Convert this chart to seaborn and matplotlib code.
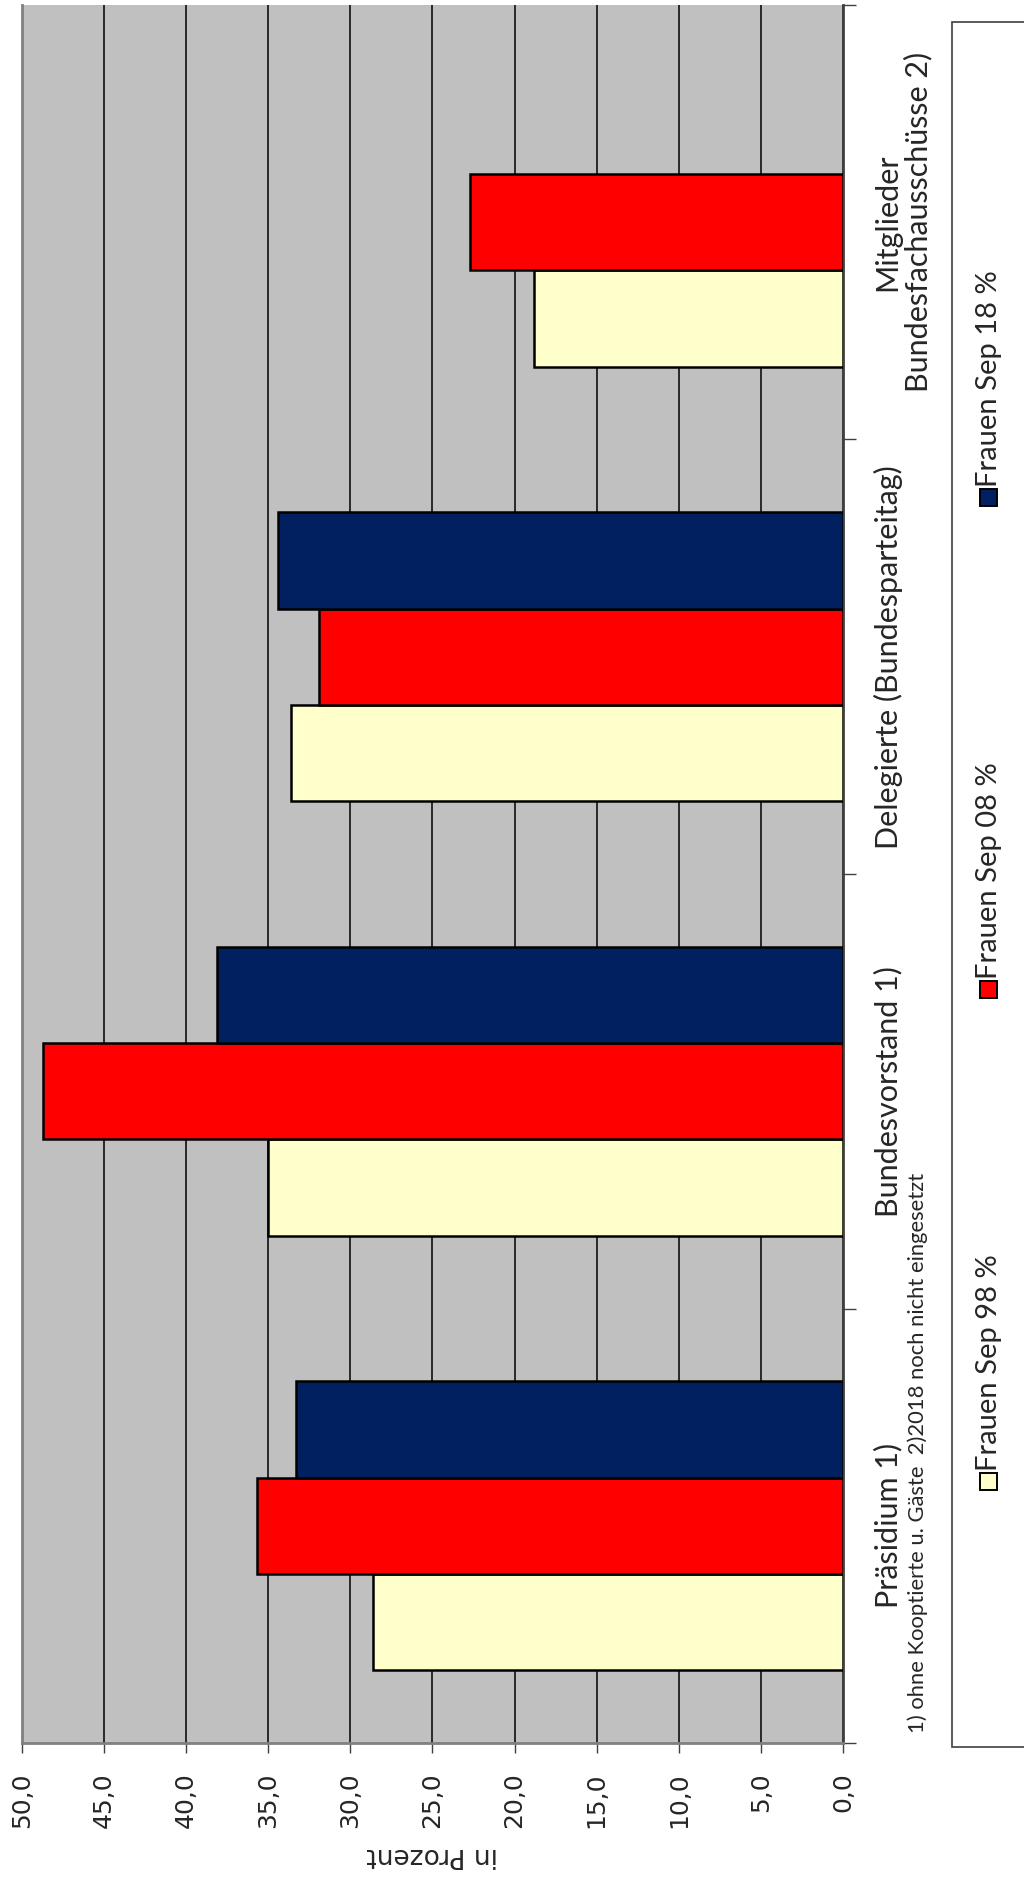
import numpy as np
import pandas as pd
import matplotlib
matplotlib.use("Agg")
import matplotlib.pyplot as plt
import seaborn as sns
from matplotlib.patches import Rectangle
from matplotlib.ticker import MultipleLocator, FixedLocator

sns.set_style("white")
plt.rcParams['font.family'] = ['DejaVu Sans']

# Daten (Frauenanteil in Prozent)
kategorien = ["Präsidium 1)", "Bundesvorstand 1)", "Delegierte (Bundesparteitag)",
              "Mitglieder\nBundesfachausschüsse 2)"]
serien = ["Frauen Sep 98 %", "Frauen Sep 08 %", "Frauen Sep 18 %"]
sep98 = [28.6, 35.0, 33.6, 18.8]
sep08 = [35.7, 48.7, 31.9, 22.7]
sep18 = [33.3, 38.1, 34.4, np.nan]   # 2018 noch nicht eingesetzt
farben = ["#FFFFCC", "#FF0000", "#002060"]
fussnote = "1) ohne Kooptierte u. Gäste  2)2018 noch nicht eingesetzt"

df = pd.DataFrame({
    "Gremium": kategorien * 3,
    "Serie": [s for s in serien for _ in kategorien],
    "Wert": sep98 + sep08 + sep18,
})

fig = plt.figure(figsize=(10.24, 18.88), dpi=100)
ax = fig.add_axes([22 / 1024, 145 / 1888, (843 - 22) / 1024, (1883 - 145) / 1888])
ax.set_facecolor("#C0C0C0")

sns.barplot(data=df, y="Gremium", x="Wert", hue="Serie", order=kategorien,
            hue_order=serien, palette=farben, orient="h", width=0.665,
            edgecolor="black", linewidth=1.8, saturation=1, legend=False,
            ax=ax, zorder=3)

# Achsen: Werte von rechts (0) nach links (50), Gremien von unten nach oben
ax.set_xlim(50, 0)
ax.set_ylim(-0.5, len(kategorien) - 0.5)
ax.xaxis.set_major_locator(MultipleLocator(5))
ax.set_xticklabels([f"{v:.1f}".replace(".", ",") for v in ax.get_xticks()])
ax.grid(axis="x", color="black", linewidth=1.1, zorder=0)
ax.set_axisbelow(True)

for lab in ax.get_xticklabels():
    lab.set_rotation(90)
    lab.set_va("top")
    lab.set_ha("center")
ax.tick_params(axis="x", length=7, width=1, color="#404040", pad=14, labelsize=18,
               direction="out", bottom=True)
ax.set_xlabel("in Prozent", fontsize=19, rotation=180, labelpad=10)

ax.yaxis.tick_right()
ax.yaxis.set_label_position("right")
ax.set_ylabel("")
ax.yaxis.set_minor_locator(FixedLocator(np.arange(-0.5, len(kategorien), 1.0)))
ax.tick_params(axis="y", which="minor", length=9, width=1, color="#404040", right=True)
ax.tick_params(axis="y", which="major", length=0, pad=22, right=True)
for lab in ax.get_yticklabels():
    lab.set_rotation(90)
    lab.set_va("center")
    lab.set_ha("left")
    lab.set_multialignment("center")
    lab.set_fontsize(22)
    lab.set_family(["Lato", "DejaVu Sans"])
    lab.set_linespacing(1.1)

for side in ["left", "bottom", "right"]:
    ax.spines[side].set_color("#808080")
    ax.spines[side].set_linewidth(2)
ax.spines["right"].set_color("#404040")
ax.spines["top"].set_visible(False)

# Fussnote
fig.text(918 / 1024, (1888 - 1733) / 1888, fussnote, rotation=90, ha="center",
         va="bottom", fontsize=15.8, family=["Lato", "DejaVu Sans"])

# Legende (Kasten rechts, Einträge gedreht)
fig.patches.append(Rectangle((952 / 1024, (1888 - 1747) / 1888), 0.2, (1747 - 22) / 1888,
                             transform=fig.transFigure, facecolor="white",
                             edgecolor="#404040", linewidth=1.2, zorder=1))
mitte_y = [1482, 990, 498]
for name, farbe, yy in zip(serien, farben, mitte_y):
    yf = (1888 - yy) / 1888
    fig.patches.append(Rectangle((980 / 1024, yf - 8 / 1888), 17 / 1024, 17 / 1888,
                                 transform=fig.transFigure, facecolor=farbe,
                                 edgecolor="black", linewidth=1.4, zorder=2))
    fig.text(989 / 1024, yf + 11 / 1888, name, rotation=90, ha="center", va="bottom",
             fontsize=21, family=["Lato", "DejaVu Sans"], zorder=3)

fig.savefig("out.png", dpi=100)
